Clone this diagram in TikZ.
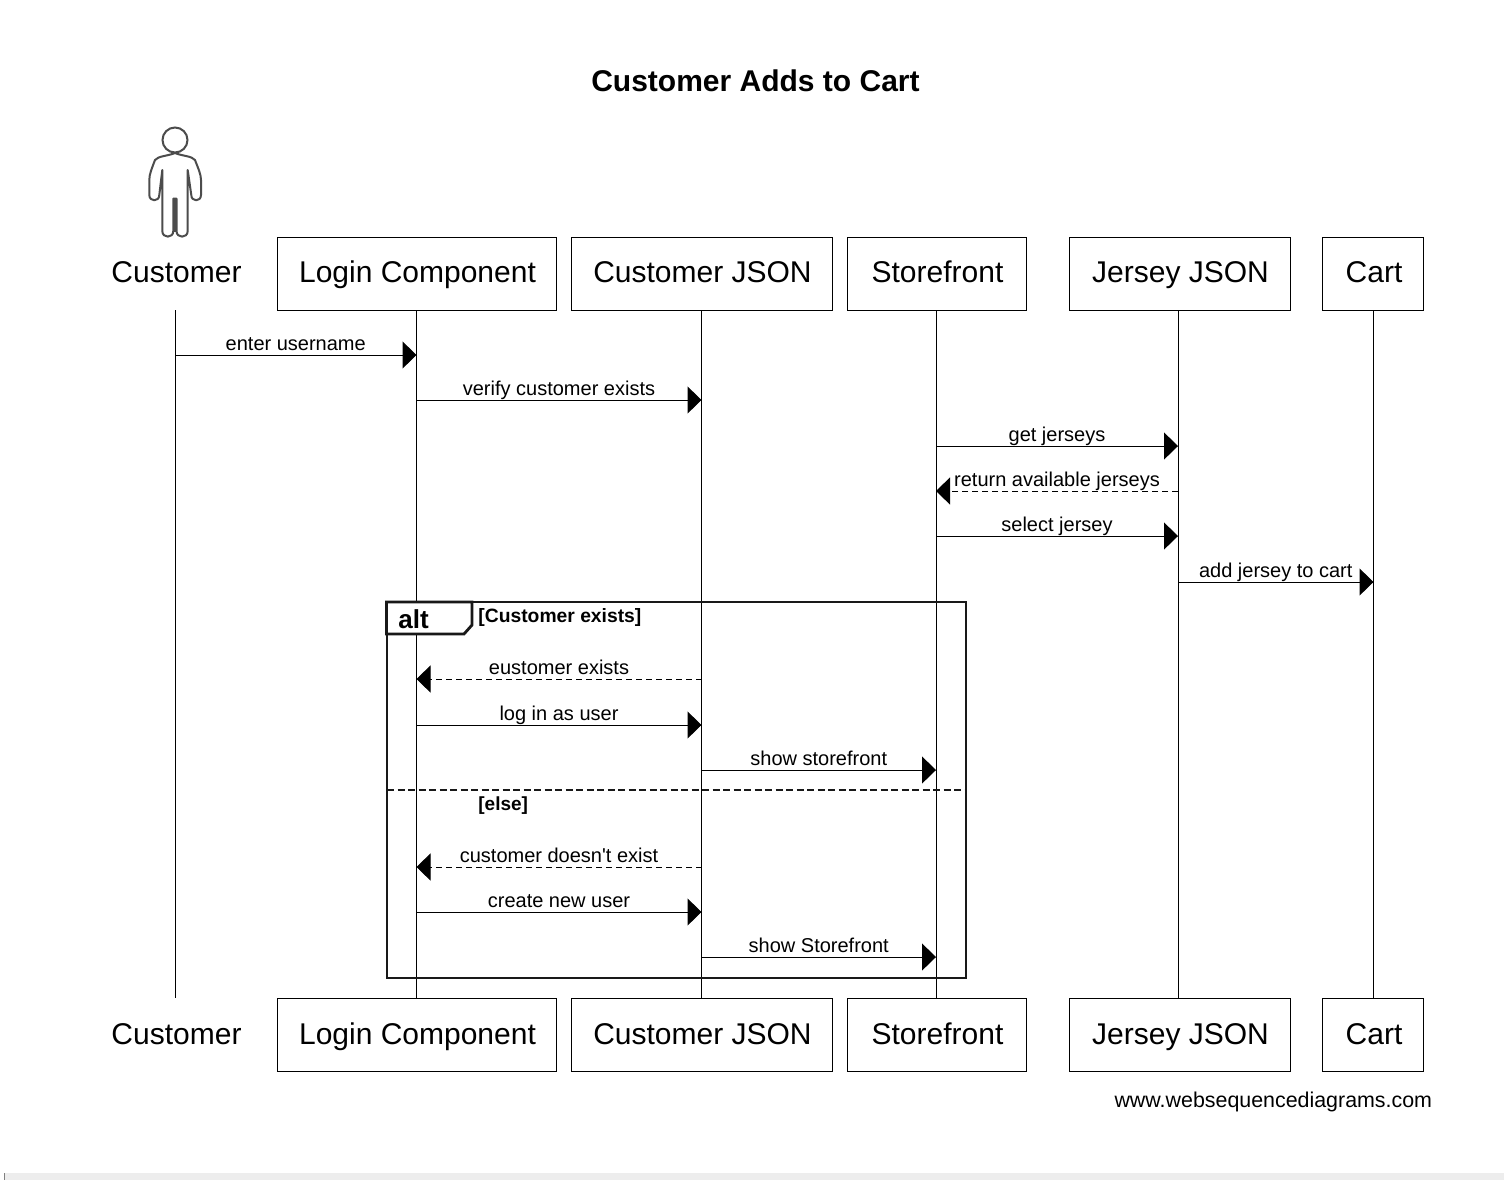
\documentclass[tikz,border=0pt]{standalone}
\usepackage{fontspec}
\setmainfont{Liberation Sans}[Ligatures=TeXOff]
\usetikzlibrary{arrows.meta}
\tikzset{
  actorname/.style={minimum height=36.5pt, inner sep=0pt, text height=11.5pt, text depth=2.4pt, font=\fontsize{15}{18}\selectfont},
  part/.style={actorname, draw=black, line width=0.5pt, execute at begin node=\hspace*{1pt}},
  lifeline/.style={line width=0.5pt},
  msgline/.style={line width=0.5pt, -{Triangle[length=7pt,width=13.5pt]}},
  msgback/.style={msgline, dash pattern=on 3pt off 2pt},
  msglabel/.style={midway, anchor=base, yshift=2.1pt, inner sep=0pt, font=\fontsize{10}{12}\selectfont},
  frameline/.style={line width=1.4pt, draw=black!90}
}
\begin{document}
\begin{tikzpicture}[x=0.5pt, y=-0.5pt]
\useasboundingbox (0,0) rectangle (1504,1180);
\fill [white] (0,0) rectangle (1504,1180);
\fill [black!7] (4,1173) rectangle (1504,1180);
\draw [black!50, line width=0.5pt] (4.5,1173) -- (4.5,1180);

\node [font=\bfseries\fontsize{15}{18}\selectfont] (title) at (755.5,81) {Customer Adds to Cart};

% actor
\draw [black!70, line width=1pt] (175,140) circle (12.5);
\draw [black!70, line width=1pt, line join=round] (175,153) .. controls (168,156) and (158,156) .. (155,160)
  .. controls (152,168) and (149.3,174) .. (149.3,180) -- (149.3,195)
  .. controls (149.3,202) and (159.3,202) .. (159.3,195)
  -- (162.3,170) -- (162.3,231)
  .. controls (162.3,238.5) and (173.3,238.5) .. (173.3,231)
  -- (173.3,198.5) -- (176.5,198.5) -- (176.5,231)
  .. controls (176.5,238.5) and (187.7,238.5) .. (187.7,231)
  -- (187.7,170) -- (191.3,195)
  .. controls (191.3,202) and (201,202) .. (201,195)
  -- (201,180) .. controls (201,174) and (198,168) .. (195,160)
  .. controls (192,156) and (182,156) .. (175,153);
\fill [black!70] (173.3,198.5) rectangle (176.5,232);

% top row
\node [actorname] (custT) at (176.5,273.5) {Customer};
\node [part, minimum width=139.5pt] (loginT) at (416.5,273.5) {Login Component};
\node [part, minimum width=130.5pt] (jsonT) at (701.5,273.5) {Customer JSON};
\node [part, minimum width=89.5pt] (storeT) at (936.5,273.5) {Storefront};
\node [part, minimum width=110.5pt] (jerseyT) at (1179.5,273.5) {Jersey JSON};
\node [part, minimum width=50.5pt] (cartT) at (1373,273.5) {Cart};

% bottom row
\node [actorname] (custB) at (176.5,1035) {Customer};
\node [part, minimum width=139.5pt] (loginB) at (416.5,1035) {Login Component};
\node [part, minimum width=130.5pt] (jsonB) at (701.5,1035) {Customer JSON};
\node [part, minimum width=89.5pt] (storeB) at (936.5,1035) {Storefront};
\node [part, minimum width=110.5pt] (jerseyB) at (1179.5,1035) {Jersey JSON};
\node [part, minimum width=50.5pt] (cartB) at (1373,1035) {Cart};

% lifelines
\coordinate (cust) at (175,310);
\coordinate (login) at (416.5,310);
\coordinate (json) at (701.5,310);
\coordinate (store) at (936,310);
\coordinate (jersey) at (1178,310);
\coordinate (cart) at (1373.5,310);
\foreach \who/\low in {cust/custB, login/loginB, json/jsonB, store/storeB, jersey/jerseyB, cart/cartB}
  \draw [lifeline] (\who) -- (\who |- \low.north);

% messages
\foreach \from/\to/\y/\txt in {
  cust/login/355/enter username,
  login/json/400/verify customer exists,
  store/jersey/446/get jerseys,
  store/jersey/536/select jersey,
  jersey/cart/582/add jersey to cart,
  login/json/725/log in as user,
  json/store/770/show storefront,
  login/json/912/create new user,
  json/store/957/show Storefront}
  \draw [msgline] (\from |- 0,\y) -- node [msglabel] {\txt} (\to |- 0,\y);
\foreach \from/\to/\y/\txt in {
  jersey/store/491/return available jerseys,
  json/login/679/eustomer exists,
  json/login/867/customer doesn't exist}
  \draw [msgback] (\from |- 0,\y) -- node [msglabel] {\txt} (\to |- 0,\y);

% alt frame
\draw [frameline] (387,602) rectangle (966,978);
\draw [frameline, fill=white] (386.5,602) -- (472,602) -- (472,625) -- (464,634) -- (386.5,634) -- cycle;
\node [anchor=base west, inner sep=0pt, font=\bfseries\fontsize{13}{15}\selectfont] (alt) at (398,628) {alt};
\node [anchor=base west, inner sep=0pt, font=\bfseries\fontsize{9.65}{12}\selectfont] (case) at (478,622) {[Customer exists]};
\draw [frameline, dash pattern=on 3.5pt off 1.75pt] (387,790) -- (966,790);
\node [anchor=base west, inner sep=0pt, font=\bfseries\fontsize{9.5}{12}\selectfont] (other) at (478,810) {[else]};

\node [anchor=base east, inner sep=0pt, font=\fontsize{10.7}{12}\selectfont] (site) at (1432.5,1107) {www.websequencediagrams.com};
\end{tikzpicture}
\end{document}
